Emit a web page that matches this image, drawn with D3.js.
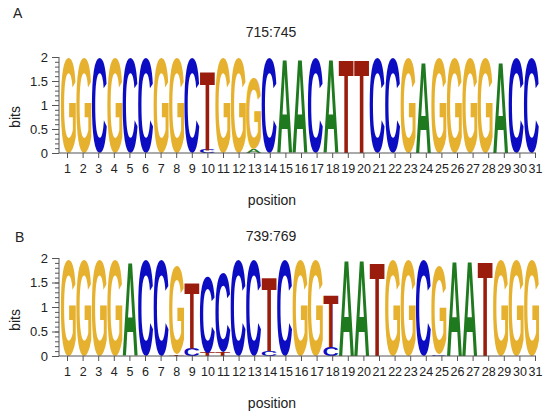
<!DOCTYPE html>
<html><head><meta charset="utf-8">
<script src="https://cdn.jsdelivr.net/npm/d3@7/dist/d3.min.js"></script>
<style>body{margin:0;background:#fff}svg{display:block}</style>
</head><body><svg id="c" width="550" height="418"></svg>
<script>
// ---- data ----
const positions = ["1","2","3","4","5","6","7","8","9","10","11","12","13","14","15","16","17","18","19","20","21","22","23","24","25","26","27","28","29","30","31"];
const yTickValues = [0, 0.5, 1, 1.5, 2];
const yTickLabels = ["0", "0.5", "1", "1.5", "2"];
const panelLabels = ["A", "B"];
const panelTitles = ["715:745", "739:769"];
const xAxisTitle = "position";
const yAxisTitle = "bits";

// each position: stack of [letter, bits]
const logoA = [
  [["G",1.98]],[["G",1.98]],[["C",1.98]],[["G",1.98]],[["C",1.98]],[["C",1.98]],[["G",1.98]],[["G",1.98]],[["C",1.98]],
  [["C",0.07],["T",1.64]],
  [["G",1.98]],[["G",1.98]],
  [["A",0.08],["G",1.48]],
  [["C",1.98]],[["A",1.96]],[["A",1.96]],[["C",1.98]],[["A",1.96]],
  [["T",1.94]],[["T",1.94]],
  [["C",1.98]],[["C",1.98]],[["G",1.97]],[["A",1.9]],
  [["G",1.98]],[["G",1.98]],[["G",1.98]],[["G",1.98]],[["A",1.9]],[["C",1.98]],[["C",1.98]]
];
const logoB = [
  [["G",1.97]],[["G",1.97]],[["G",1.97]],[["G",1.97]],[["A",1.9]],[["C",1.95]],[["C",1.97]],
  [["T",0.03],["G",1.8]],
  [["C",0.15],["T",1.34]],
  [["T",0.07],["C",1.55]],
  [["T",0.07],["C",1.6]],
  [["C",1.97]],[["C",1.97]],
  [["C",0.1],["T",1.52]],
  [["C",1.95]],[["G",1.95]],[["G",1.95]],
  [["C",0.18],["T",1.05]],
  [["A",1.95]],[["A",1.95]],[["T",1.92]],[["G",1.95]],[["G",1.95]],[["C",1.95]],
  [["C",0.03],["G",1.8]],
  [["A",1.93]],[["A",1.93]],[["T",1.93]],[["G",1.95]],[["G",1.95]],[["G",1.95]]
];
const logos = [logoA, logoB];
const letterColors = {A:"#1f7a1f", C:"#0c0cc2", G:"#e6b12e", T:"#991c0c"};

// ---- layout ----
const FONT = "'Liberation Sans', Arial, sans-serif";
const panels = [
  {yTop:57, yBot:153, titleY:37, labelY:18, labelX:13},
  {yTop:258, yBot:356, titleY:241, labelY:242, labelX:15}
];
const axisX = 59;
const svg = d3.select("#c");

const cv = document.createElement("canvas").getContext("2d");
cv.font = "bold 100px " + FONT;
const metrics = {};
"ACGT".split("").forEach(ch => {
  const m = cv.measureText(ch);
  metrics[ch] = {l:m.actualBoundingBoxLeft, r:m.actualBoundingBoxRight, a:m.actualBoundingBoxAscent, d:m.actualBoundingBoxDescent};
});

const xBand = d3.scaleBand().domain(positions).range([61, 539]).paddingInner(0.03).paddingOuter(0);
const xTick = d3.scalePoint().domain(positions).range([67, 535]);

panels.forEach((p, pi) => {
  const g = svg.append("g");
  const y = d3.scaleLinear().domain([0, 2]).range([p.yBot, p.yTop]);

  // letters
  logos[pi].forEach((stack, i) => {
    const x0 = xBand(positions[i]);
    const w = xBand.bandwidth();
    let cum = 0;
    stack.slice().sort((a, b) => a[1] - b[1]).forEach(([ch, h]) => {
      const yb = y(cum), yt = y(cum + h);
      const m = metrics[ch];
      const sx = w / (m.l + m.r), sy = (yb - yt) / (m.a + m.d);
      g.append("text").text(ch)
        .attr("font-family", FONT).attr("font-weight", "bold").attr("font-size", 100)
        .attr("fill", letterColors[ch])
        .attr("transform", `translate(${x0 + m.l * sx},${yb - m.d * sy}) scale(${sx},${sy})`);
      cum += h;
    });
  });

  // y axis: minor ticks
  const minor = g.append("g").attr("transform", `translate(${axisX},0)`)
    .call(d3.axisLeft(y).tickValues(d3.range(0, 2.001, 0.1)).tickSize(4).tickFormat(""));
  minor.select(".domain").remove();
  minor.selectAll("line").attr("stroke", "#555");
  const major = g.append("g").attr("transform", `translate(${axisX},0)`)
    .call(d3.axisLeft(y).tickValues(yTickValues).tickSize(7).tickPadding(4)
      .tickFormat((d, i) => yTickLabels[i]));
  major.select(".domain").attr("stroke", "#555").attr("d", `M0,${p.yTop}V${p.yBot}`);
  major.selectAll("line").attr("stroke", "#555");
  major.selectAll("text").attr("font-family", FONT).attr("font-size", 13).attr("fill", "#222");

  // x axis
  const xa = g.append("g").attr("transform", `translate(0,${p.yBot})`)
    .call(d3.axisBottom(xTick).tickSize(5).tickPadding(6));
  xa.select(".domain").remove();
  xa.selectAll("line").attr("stroke", "#555");
  xa.selectAll("text").attr("font-family", FONT).attr("font-size", 12.5).attr("fill", "#222");
  g.append("line").attr("x1", axisX).attr("x2", 536).attr("y1", p.yBot).attr("y2", p.yBot)
    .attr("stroke", "#555");

  // titles
  g.append("text").text(panelTitles[pi]).attr("x", 271).attr("y", p.titleY)
    .attr("text-anchor", "middle").attr("font-family", FONT).attr("font-size", 14).attr("fill", "#222");
  g.append("text").text(xAxisTitle).attr("x", 272).attr("y", p.yBot + 52)
    .attr("text-anchor", "middle").attr("font-family", FONT).attr("font-size", 14).attr("fill", "#222");
  g.append("text").text(yAxisTitle)
    .attr("transform", `translate(20,${p.yBot - 36}) rotate(-90)`)
    .attr("text-anchor", "middle").attr("font-family", FONT).attr("font-size", 14).attr("fill", "#222");
  g.append("text").text(panelLabels[pi]).attr("x", p.labelX).attr("y", p.labelY)
    .attr("font-family", FONT).attr("font-size", 14).attr("fill", "#222");
});
</script></body></html>
